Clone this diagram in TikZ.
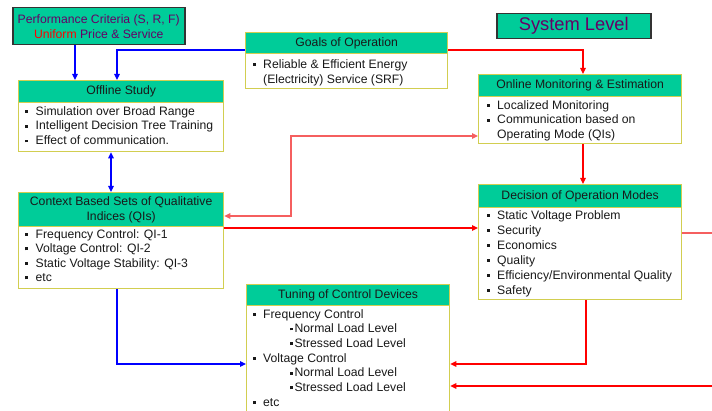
\documentclass[tikz,border=0pt]{standalone}
\usepackage{fontspec}
\setmainfont{Liberation Sans}
\usetikzlibrary{arrows.meta}
\definecolor{hdrgreen}{RGB}{0,204,153}
\definecolor{boxline}{RGB}{210,206,80}
\definecolor{purp}{RGB}{102,0,102}
\definecolor{darkline}{RGB}{51,51,51}
\definecolor{txtcol}{RGB}{25,25,25}
\definecolor{pinkred}{RGB}{245,95,95}
\newcommand\fs{\fontsize{12.2}{14.8}\selectfont}
\newcommand\bul{\makebox[10.5pt][l]{\raisebox{2.4pt}{\rule{2.8pt}{2.8pt}}}}
\newcommand\sbul{\raisebox{2.4pt}{\rule{2.8pt}{2.8pt}}\hspace{1.6pt}}
\tikzset{
  hdr/.style={draw=boxline, line width=1.3pt, fill=hdrgreen, inner sep=0pt, anchor=north west, align=center, font=\fs, text=txtcol},
  bodybox/.style={draw=boxline, line width=1.3pt, fill=white, inner sep=0pt, anchor=north west},
  txt/.style={anchor=base west, inner sep=0pt, font=\fs, text=txtcol, yshift=-1.2pt},
  conn/.style={line width=1.2pt, -{Triangle[length=6pt,width=5.5pt]}},
  blueconn/.style={conn, draw=blue},
  redconn/.style={conn, draw=red},
  pinkconn/.style={conn, draw=pinkred},
}
\begin{document}
\begin{tikzpicture}[x=1pt,y=-1pt]
\useasboundingbox[fill=white] (0,0) rectangle (712,411);

% Performance criteria
\node[draw=darkline, line width=1.5pt, fill=hdrgreen, inner sep=0pt, anchor=north west,
      minimum width=172, minimum height=37, align=center, text=purp,
      font=\fontsize{12.2}{15}\selectfont] (perf) at (12,7)
      {Performance Criteria (S, R, F)\\\textcolor{red}{Uniform} Price \& Service};

% System level
\node[draw=darkline, line width=1.5pt, fill=hdrgreen, inner sep=0pt, anchor=north west,
      minimum width=154, minimum height=25, text=purp,
      font=\fontsize{18.3}{20}\selectfont] (sys) at (496,13) {System Level};

% Goals of Operation
\node[bodybox, minimum width=202, minimum height=35] (goalsb) at (245,53) {};
\node[hdr, minimum width=202, minimum height=21] (goalsh) at (245,32) {Goals of Operation};
\node[txt] (g1t) at (252.5,67) {\bul Reliable \& Efficient Energy};
\node[txt] (g2t) at (263,82) {(Electricity) Service (SRF)};

% Offline Study
\node[bodybox, minimum width=205, minimum height=49] (offb) at (18,102) {};
\node[hdr, minimum width=205, minimum height=22] (offh) at (18,80) {Offline Study};
\node[txt] (o1t) at (25,114) {\bul Simulation over Broad Range};
\node[txt] (o2t) at (25,128.8) {\bul Intelligent Decision Tree Training};
\node[txt] (o3t) at (25,143.6) {\bul Effect of communication.};

% Online Monitoring
\node[bodybox, minimum width=203, minimum height=47] (onb) at (478,96) {};
\node[hdr, minimum width=203, minimum height=22] (onh) at (478,74) {Online Monitoring \& Estimation};
\node[txt] (n1t) at (486.5,108) {\bul Localized Monitoring};
\node[txt] (n2t) at (486.5,122.8) {\bul Communication based on};
\node[txt] (n3t) at (497,137.6) {Operating Mode (QIs)};

% Context based sets
\node[bodybox, minimum width=205, minimum height=62] (ctxb) at (18,226) {};
\node[hdr, minimum width=205, minimum height=34] (ctxh) at (18,192) {Context Based Sets of Qualitative\\Indices (QIs)};
\node[txt] (c1t) at (25,237) {\bul Frequency Control: QI-1};
\node[txt] (c2t) at (25,251.5) {\bul Voltage Control: QI-2};
\node[txt] (c3t) at (25,266) {\bul Static Voltage Stability: QI-3};
\node[txt] (c4t) at (25,280.5) {\bul etc};

% Decision of Operation Modes
\node[bodybox, minimum width=203, minimum height=92] (decb) at (478,207) {};
\node[hdr, minimum width=203, minimum height=23] (dech) at (478,184) {Decision of Operation Modes};
\node[txt] (d1t) at (486.5,218) {\bul Static Voltage Problem};
\node[txt] (d2t) at (486.5,233) {\bul Security};
\node[txt] (d3t) at (486.5,248) {\bul Economics};
\node[txt] (d4t) at (486.5,263) {\bul Quality};
\node[txt] (d5t) at (486.5,278) {\bul Efficiency/Environmental Quality};
\node[txt] (d6t) at (486.5,293) {\bul Safety};

% Tuning of Control Devices
\node[bodybox, minimum width=203, minimum height=112] (tunb) at (246,305) {};
\node[hdr, minimum width=203, minimum height=21] (tunh) at (246,284) {Tuning of Control Devices};
\node[txt] (t1t) at (252.5,317) {\bul Frequency Control};
\node[txt] (t2t) at (290,331.7) {\sbul Normal Load Level};
\node[txt] (t3t) at (290,346.4) {\sbul Stressed Load Level};
\node[txt] (t4t) at (252.5,361) {\bul Voltage Control};
\node[txt] (t5t) at (290,375.8) {\sbul Normal Load Level};
\node[txt] (t6t) at (290,390.5) {\sbul Stressed Load Level};
\node[txt] (t7t) at (252.5,405.2) {\bul etc};

% Blue connectors
\coordinate (b1) at (75,0);
\draw[blueconn] (perf.south -| b1) -- (offh.north -| b1);
\coordinate (g1) at (117,50);
\draw[blueconn] (goalsh.west |- g1) -| (offh.north -| g1);
\coordinate (b2) at (111,0);
\draw[blueconn, {Triangle[length=6pt,width=5.5pt]}-{Triangle[length=6pt,width=5.5pt]}] (offb.south -| b2) -- (ctxh.north -| b2);
\coordinate (b3) at (117,364);
\draw[blueconn] (ctxb.south -| b3) |- (tunb.west |- b3);

% Red connectors
\coordinate (r1) at (583,50);
\draw[redconn] (goalsh.east |- r1) -| (onh.north -| r1);
\draw[redconn] (onb.south -| r1) -- (dech.north -| r1);
\coordinate (r2) at (291,136);
\coordinate (r3) at (291,216);
\draw[pinkconn, {Triangle[length=6pt,width=5.5pt]}-{Triangle[length=6pt,width=5.5pt]}] (onb.west |- r2) -- (r2) -- (r3) -- (ctxh.east |- r3);
\coordinate (r4) at (0,228);
\draw[redconn] (ctxb.east |- r4) -- (decb.west |- r4);
\coordinate (r5) at (586,364);
\draw[redconn] (decb.south -| r5) |- (tunb.east |- r5);
\coordinate (e1) at (712,386);
\draw[redconn] (e1) -- (tunb.east |- e1);
\coordinate (e2) at (712,233);
\draw[line width=1.2pt, draw=pinkred] (decb.east |- e2) -- (e2);
\end{tikzpicture}
\end{document}
